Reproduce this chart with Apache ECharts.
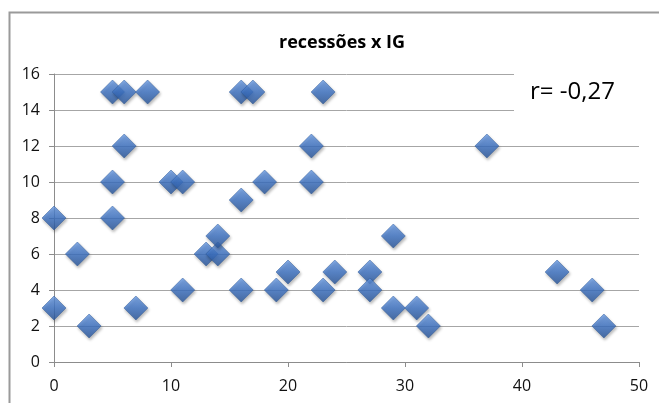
<!DOCTYPE html>
<html>
<head>
<meta charset="utf-8">
<script src="https://cdn.jsdelivr.net/npm/echarts@6/dist/echarts.min.js"></script>
<style>html,body{margin:0;padding:0;background:#fff}#c{width:659px;height:403px}</style>
</head>
<body>
<div id="c"></div>
<script>
var titleText = 'recessões x IG';
var annotation = 'r= -0,27';
var igValues = [0,0,2,3,5,6,8,6,5,5,7,10,11,11,13,14,14,16,17,16,16,18,19,20,22,22,23,23,24,27,27,29,29,31,32,37,43,46,47];
var recValues = [8,3,6,2,15,15,15,12,10,8,3,10,10,4,6,6,7,15,15,9,4,10,4,5,12,10,15,4,5,5,4,7,3,3,2,12,5,4,2];
var xTicks = {min: 0, max: 50, interval: 10};
var yTicks = {min: 0, max: 16, interval: 2};

var points = igValues.map(function (v, i) { return [v, recValues[i]]; });
var chart = echarts.init(document.getElementById('c'));
var fontFam = 'Open Sans';
chart.setOption({
  animation: false,
  backgroundColor: '#fff',
  title: {
    text: titleText, left: 337, top: 29, textAlign: 'center',
    textStyle: {fontFamily: fontFam, fontSize: 18, fontWeight: 'bold', color: '#000'}
  },
  grid: {left: 54, right: 20, top: 74, bottom: 41},
  xAxis: {
    type: 'value', min: xTicks.min, max: xTicks.max, interval: xTicks.interval,
    axisLine: {show: true, lineStyle: {color: '#8c8c8c', width: 1}},
    axisTick: {show: true, length: 5, lineStyle: {color: '#8c8c8c'}},
    axisLabel: {margin: 16, fontFamily: fontFam, fontSize: 16, color: '#111'},
    splitLine: {show: false}
  },
  yAxis: {
    type: 'value', min: yTicks.min, max: yTicks.max, interval: yTicks.interval,
    axisLine: {show: true, lineStyle: {color: '#8c8c8c', width: 1}},
    axisTick: {show: true, length: 5, lineStyle: {color: '#8c8c8c'}},
    axisLabel: {margin: 14, fontFamily: fontFam, fontSize: 16, color: '#111'},
    splitLine: {show: true, lineStyle: {color: '#a6a6a6', width: 1}}
  },
  series: [{
    type: 'scatter',
    data: points,
    symbol: 'diamond',
    symbolSize: [24, 24],
    itemStyle: {
      color: new echarts.graphic.LinearGradient(0, 0, 0, 1, [
        {offset: 0, color: '#6a9ce6'},
        {offset: 0.5, color: '#3e74c6'},
        {offset: 1, color: '#28559a'}
      ]),
      borderColor: '#2a5796', borderWidth: 0.6,
      shadowBlur: 3, shadowColor: 'rgba(0,0,0,0.35)', shadowOffsetX: 1, shadowOffsetY: 2
    },
    z: 3
  }],
  graphic: [
    {type: 'rect', left: 7, top: 10, z: 0, silent: true,
     shape: {width: 700, height: 500},
     style: {fill: 'none', stroke: '#9a9a9a', lineWidth: 2}},
    {type: 'rect', left: 514, top: 66, z: 10, silent: true,
     shape: {width: 140, height: 52},
     style: {fill: '#fff', stroke: 'none'}},
    {type: 'text', left: 530, top: 80, z: 11, silent: true,
     style: {text: annotation, fontFamily: fontFam, fontSize: 24, fill: '#000'}}
  ]
});
</script>
</body>
</html>
